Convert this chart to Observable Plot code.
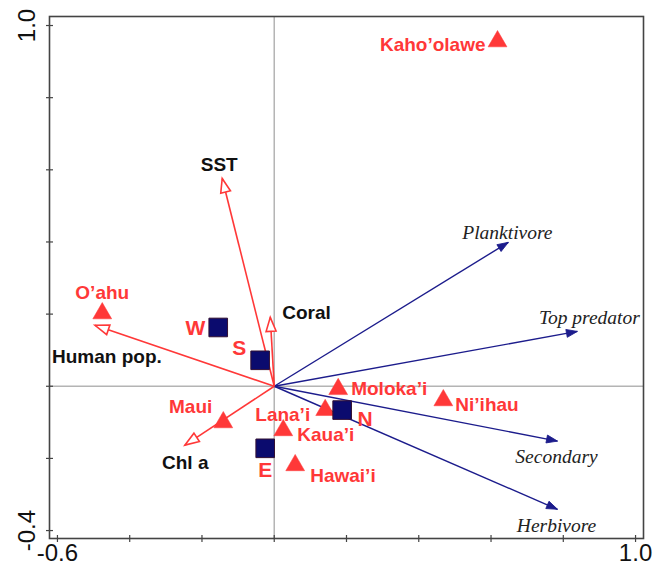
<!DOCTYPE html>
<html>
<head>
<meta charset="utf-8">
<script src="https://cdn.jsdelivr.net/npm/d3@7"></script>
<script src="https://cdn.jsdelivr.net/npm/@observablehq/plot@0.6"></script>
<style>
  html, body { margin: 0; padding: 0; background: white; }
</style>
</head>
<body>
<div id="chart"></div>
<script>
// ---- Data ----
const islandNames = ["Kaho’olawe", "O’ahu", "Maui", "Moloka’i", "Lana’i", "Kaua’i", "Hawai’i", "Ni’ihau"];
const islandX = [0.618, -0.476, -0.141, 0.177, 0.141, 0.025, 0.058, 0.468];
const islandY = [0.956, 0.202, -0.100, -0.008, -0.066, -0.122, -0.219, -0.039];

const regionNames = ["W", "S", "N", "E"];
const regionX = [-0.155, -0.039, 0.188, -0.025];
const regionY = [0.163, 0.072, -0.066, -0.172];

const envNames = ["SST", "Coral", "Human pop.", "Chl a"];
const envX = [-0.144, -0.011, -0.496, -0.247];
const envY = [0.576, 0.191, 0.169, -0.163];

const speciesNames = ["Planktivore", "Top predator", "Secondary", "Herbivore"];
const speciesX = [0.648, 0.839, 0.784, 0.784];
const speciesY = [0.399, 0.152, -0.152, -0.341];

const xTickValues = [-0.6, -0.4, -0.2, 0, 0.2, 0.4, 0.6, 0.8, 1.0];
const yTickValues = [-0.4, -0.2, 0, 0.2, 0.4, 0.6, 0.8, 1.0];
const xLabelValues = [-0.6, 1.0];
const xLabelTexts = ["-0.6", "1.0"];
const yLabelValues = [-0.4, 1.0];
const yLabelTexts = ["-0.4", "1.0"];

// ---- Label placement (layout only) ----
const place = {
  "Kaho’olawe": ["end", -12, 4],
  "O’ahu": ["middle", 0, -20],
  "Maui": ["end", -11, -15],
  "Moloka’i": ["start", 13, 0],
  "Lana’i": ["end", -15, 5],
  "Kaua’i": ["start", 14, 5],
  "Hawai’i": ["start", 15, 11],
  "Ni’ihau": ["start", 12, 5],
  "W": ["end", -13, 1],
  "S": ["middle", -21, -12],
  "N": ["middle", 23, 9],
  "E": ["middle", 0, 22],
  "SST": ["middle", -3, -14],
  "Coral": ["start", 12, -4],
  "Human pop.": ["start", -43, 32],
  "Chl a": ["start", -23, 18],
  "Planktivore": ["middle", -1, -10],
  "Top predator": ["middle", 12, -14],
  "Secondary": ["middle", -1, 16],
  "Herbivore": ["middle", -1, 16]
};

const zip = (names, xs, ys) => names.map((name, i) => ({name, x: xs[i], y: ys[i]}));
const islands = zip(islandNames, islandX, islandY);
const regions = zip(regionNames, regionX, regionY);
const env = zip(envNames, envX, envY);
const species = zip(speciesNames, speciesX, speciesY);

const RED = "#ff3838";
const NAVY = "#0b0b6e";
const BLUE = "#1c1c8c";

const openHead = {draw(ctx) { ctx.moveTo(0, 0); ctx.lineTo(5, 14); ctx.lineTo(-5, 14); ctx.closePath(); }};
const solidHead = {draw(ctx) { ctx.moveTo(0, 0); ctx.lineTo(4, 11); ctx.lineTo(-4, 11); ctx.closePath(); }};
const vTick = {draw(ctx) { ctx.moveTo(0, -3.5); ctx.lineTo(0, 3.5); }};
const hTick = {draw(ctx) { ctx.moveTo(-3.5, 0); ctx.lineTo(3.5, 0); }};
const angle = d => Math.atan2(d.x, d.y) * 180 / Math.PI;

function labels(data, opts) {
  return data.map(d => {
    const [anchor, dx, dy] = place[d.name];
    return Plot.text([d], {x: "x", y: "y", text: "name", textAnchor: anchor, dx, dy, ...opts});
  });
}

const sansBold = {fontFamily: "Liberation Sans, Arial, sans-serif", fontWeight: "bold", fontSize: 19};

const chart = Plot.plot({
  width: 664,
  height: 574,
  marginLeft: 49,
  marginRight: 21,
  marginTop: 16,
  marginBottom: 36,
  x: {domain: [-0.622, 1.022], axis: null},
  y: {domain: [-0.422, 1.025], axis: null},
  style: {fontFamily: "Liberation Sans, Arial, sans-serif", background: "white", overflow: "visible"},
  marks: [
    Plot.ruleX([0], {stroke: "#b4b4b4", strokeWidth: 1.5}),
    Plot.ruleY([0], {stroke: "#b4b4b4", strokeWidth: 1.5}),
    Plot.frame({stroke: "#444", strokeWidth: 1.6}),
    Plot.dot(xTickValues, {x: d => d, frameAnchor: "bottom", symbol: vTick, stroke: "#444", strokeWidth: 1.2, fill: "none"}),
    Plot.dot(yTickValues, {y: d => d, frameAnchor: "left", symbol: hTick, stroke: "#444", strokeWidth: 1.2, fill: "none"}),
    Plot.text(xLabelValues, {x: d => d, text: (d, i) => xLabelTexts[i], frameAnchor: "bottom", textAnchor: "middle", dy: 22, fontSize: 24, fill: "#111"}),
    Plot.text(yLabelValues, {y: d => d, text: (d, i) => yLabelTexts[i], frameAnchor: "left", textAnchor: "middle", dx: -22, rotate: -90, fontSize: 24, fill: "#111"}),
    // species arrows
    Plot.link(species, {x1: 0, y1: 0, x2: "x", y2: "y", stroke: BLUE, strokeWidth: 1.4}),
    Plot.dot(species, {x: "x", y: "y", symbol: solidHead, rotate: angle, fill: BLUE, stroke: BLUE, strokeWidth: 0.8}),
    // environmental arrows
    Plot.link(env, {x1: 0, y1: 0, x2: "x", y2: "y", stroke: RED, strokeWidth: 1.6}),
    Plot.dot(env, {x: "x", y: "y", symbol: openHead, rotate: angle, fill: "white", stroke: RED, strokeWidth: 1.6}),
    // islands
    Plot.dot(islands, {x: "x", y: "y", symbol: "triangle", r: 7, fill: RED, stroke: RED, strokeWidth: 0.5}),
    // regions
    Plot.dot(regions, {x: "x", y: "y", symbol: "square", r: 10.5, fill: NAVY, stroke: "#331133", strokeWidth: 1}),
    ...labels(islands, {...sansBold, fill: RED}),
    ...labels(regions, {...sansBold, fill: RED, fontSize: 21}),
    ...labels(env, {...sansBold, fill: "#111"}),
    ...labels(species, {fontFamily: "Liberation Serif, Times New Roman, serif", fontStyle: "italic", fontSize: 19.5, fill: "#222"})
  ]
});

document.getElementById("chart").appendChild(chart);
</script>
</body>
</html>
